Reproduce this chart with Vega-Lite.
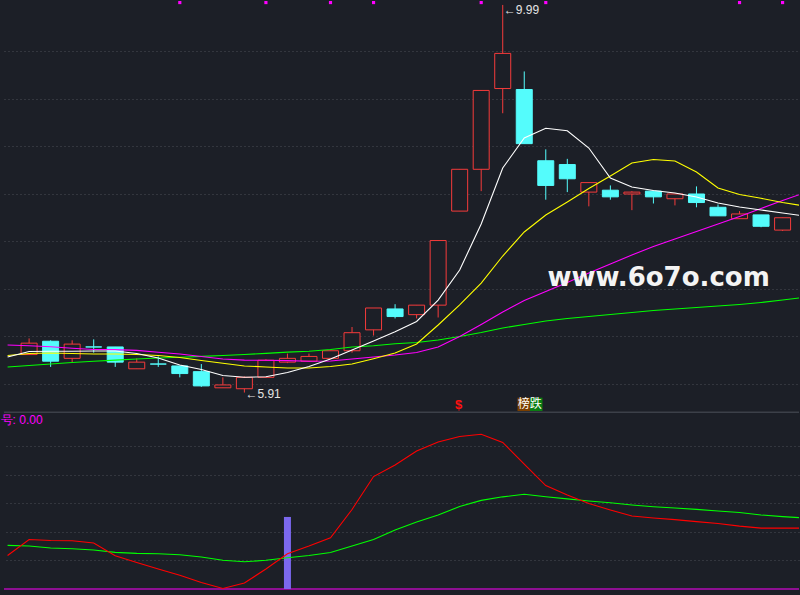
{
"$schema":"https://vega.github.io/schema/vega-lite/v6.json",
"width":800,"height":595,
"autosize":{"type":"fit","contains":"padding"},
"padding":0,
"background":"#1c1f27",
"config":{"view":{"stroke":null}},
"datasets":{
"candles":[
{"i":0,"o":6.31,"c":6.43,"h":6.48,"l":6.31,"d":"up"},
{"i":1,"o":6.45,"c":6.24,"h":6.46,"l":6.18,"d":"down"},
{"i":2,"o":6.27,"c":6.42,"h":6.46,"l":6.23,"d":"up"},
{"i":3,"o":6.39,"c":6.39,"h":6.47,"l":6.33,"d":"down"},
{"i":4,"o":6.39,"c":6.23,"h":6.39,"l":6.18,"d":"down"},
{"i":5,"o":6.16,"c":6.23,"h":6.27,"l":6.16,"d":"up"},
{"i":6,"o":6.21,"c":6.21,"h":6.29,"l":6.18,"d":"down"},
{"i":7,"o":6.19,"c":6.11,"h":6.19,"l":6.07,"d":"down"},
{"i":8,"o":6.13,"c":5.98,"h":6.21,"l":5.97,"d":"down"},
{"i":9,"o":5.96,"c":5.99,"h":6.07,"l":5.96,"d":"up"},
{"i":10,"o":5.95,"c":6.07,"h":6.08,"l":5.91,"d":"up"},
{"i":11,"o":6.07,"c":6.25,"h":6.26,"l":6.07,"d":"up"},
{"i":12,"o":6.23,"c":6.27,"h":6.32,"l":6.22,"d":"up"},
{"i":13,"o":6.24,"c":6.29,"h":6.32,"l":6.24,"d":"up"},
{"i":14,"o":6.27,"c":6.35,"h":6.35,"l":6.27,"d":"up"},
{"i":15,"o":6.35,"c":6.54,"h":6.60,"l":6.33,"d":"up"},
{"i":16,"o":6.57,"c":6.80,"h":6.80,"l":6.51,"d":"up"},
{"i":17,"o":6.79,"c":6.71,"h":6.84,"l":6.69,"d":"down"},
{"i":18,"o":6.73,"c":6.83,"h":6.83,"l":6.69,"d":"up"},
{"i":19,"o":6.83,"c":7.51,"h":7.51,"l":6.70,"d":"up"},
{"i":20,"o":7.82,"c":8.26,"h":8.26,"l":7.82,"d":"up"},
{"i":21,"o":8.26,"c":9.09,"h":9.09,"l":8.03,"d":"up"},
{"i":22,"o":9.11,"c":9.48,"h":9.99,"l":8.85,"d":"up"},
{"i":23,"o":9.10,"c":8.53,"h":9.29,"l":8.53,"d":"down"},
{"i":24,"o":8.35,"c":8.09,"h":8.47,"l":7.94,"d":"down"},
{"i":25,"o":8.31,"c":8.16,"h":8.37,"l":8.02,"d":"down"},
{"i":26,"o":8.02,"c":8.12,"h":8.12,"l":7.87,"d":"up"},
{"i":27,"o":8.04,"c":7.97,"h":8.09,"l":7.94,"d":"down"},
{"i":28,"o":8.00,"c":8.02,"h":8.03,"l":7.83,"d":"up"},
{"i":29,"o":8.03,"c":7.97,"h":8.03,"l":7.90,"d":"down"},
{"i":30,"o":7.95,"c":8.00,"h":8.00,"l":7.88,"d":"up"},
{"i":31,"o":8.00,"c":7.91,"h":8.08,"l":7.86,"d":"down"},
{"i":32,"o":7.86,"c":7.77,"h":7.89,"l":7.77,"d":"down"},
{"i":33,"o":7.74,"c":7.79,"h":7.82,"l":7.74,"d":"up"},
{"i":34,"o":7.78,"c":7.66,"h":7.78,"l":7.65,"d":"down"},
{"i":35,"o":7.62,"c":7.75,"h":7.75,"l":7.61,"d":"up"}
],
"ind":[
{"i":-1,"w":6.284,"yl":6.300,"m":6.411,"g":6.179,"k":23.5,"dv":30.6},
{"i":0,"w":6.342,"yl":6.321,"m":6.403,"g":6.195,"k":34.7,"dv":30.1},
{"i":1,"w":6.344,"yl":6.326,"m":6.392,"g":6.211,"k":34.0,"dv":28.7},
{"i":2,"w":6.344,"yl":6.321,"m":6.376,"g":6.226,"k":33.8,"dv":28.2},
{"i":3,"w":6.347,"yl":6.316,"m":6.363,"g":6.239,"k":32.2,"dv":27.3},
{"i":4,"w":6.347,"yl":6.316,"m":6.362,"g":6.251,"k":23.3,"dv":25.7},
{"i":5,"w":6.321,"yl":6.311,"m":6.354,"g":6.263,"k":18.6,"dv":25.0},
{"i":6,"w":6.274,"yl":6.300,"m":6.334,"g":6.274,"k":14.0,"dv":24.7},
{"i":7,"w":6.200,"yl":6.279,"m":6.316,"g":6.282,"k":9.6,"dv":24.0},
{"i":8,"w":6.153,"yl":6.247,"m":6.290,"g":6.291,"k":4.6,"dv":22.4},
{"i":9,"w":6.090,"yl":6.218,"m":6.263,"g":6.300,"k":0.4,"dv":20.1},
{"i":10,"w":6.071,"yl":6.190,"m":6.251,"g":6.311,"k":4.2,"dv":19.1},
{"i":11,"w":6.077,"yl":6.179,"m":6.250,"g":6.322,"k":14.0,"dv":20.1},
{"i":12,"w":6.121,"yl":6.168,"m":6.246,"g":6.335,"k":24.7,"dv":21.9},
{"i":13,"w":6.184,"yl":6.168,"m":6.240,"g":6.345,"k":30.1,"dv":23.5},
{"i":14,"w":6.263,"yl":6.184,"m":6.242,"g":6.363,"k":35.9,"dv":25.6},
{"i":15,"w":6.358,"yl":6.211,"m":6.263,"g":6.390,"k":55.7,"dv":30.1},
{"i":16,"w":6.453,"yl":6.266,"m":6.284,"g":6.402,"k":78.8,"dv":34.7},
{"i":17,"w":6.551,"yl":6.326,"m":6.305,"g":6.423,"k":86.9,"dv":41.3},
{"i":18,"w":6.658,"yl":6.421,"m":6.332,"g":6.437,"k":96.7,"dv":47.0},
{"i":19,"w":6.884,"yl":6.621,"m":6.390,"g":6.463,"k":103.0,"dv":51.9},
{"i":20,"w":7.200,"yl":6.832,"m":6.500,"g":6.500,"k":106.9,"dv":57.8},
{"i":21,"w":7.684,"yl":7.063,"m":6.626,"g":6.542,"k":108.5,"dv":62.1},
{"i":22,"w":8.274,"yl":7.347,"m":6.758,"g":6.590,"k":102.7,"dv":64.6},
{"i":23,"w":8.590,"yl":7.600,"m":6.879,"g":6.626,"k":87.6,"dv":66.4},
{"i":24,"w":8.692,"yl":7.779,"m":6.974,"g":6.663,"k":72.5,"dv":64.7},
{"i":25,"w":8.666,"yl":7.916,"m":7.068,"g":6.690,"k":65.9,"dv":63.2},
{"i":26,"w":8.484,"yl":8.058,"m":7.168,"g":6.711,"k":59.9,"dv":61.7},
{"i":27,"w":8.168,"yl":8.190,"m":7.263,"g":6.732,"k":55.4,"dv":60.4},
{"i":28,"w":8.074,"yl":8.326,"m":7.358,"g":6.753,"k":51.2,"dv":58.9},
{"i":29,"w":8.037,"yl":8.363,"m":7.447,"g":6.774,"k":49.8,"dv":57.7},
{"i":30,"w":8.011,"yl":8.347,"m":7.526,"g":6.790,"k":48.6,"dv":56.8},
{"i":31,"w":7.968,"yl":8.232,"m":7.605,"g":6.805,"k":47.2,"dv":55.8},
{"i":32,"w":7.905,"yl":8.063,"m":7.684,"g":6.821,"k":45.9,"dv":54.7},
{"i":33,"w":7.863,"yl":7.995,"m":7.763,"g":6.837,"k":44.1,"dv":53.6},
{"i":34,"w":7.832,"yl":7.955,"m":7.847,"g":6.858,"k":42.7,"dv":51.9},
{"i":35,"w":7.800,"yl":7.911,"m":7.932,"g":6.884,"k":42.7,"dv":50.7},
{"i":36,"w":7.768,"yl":7.874,"m":8.011,"g":6.911,"k":42.7,"dv":49.8}
],
"flags":[{"i":7},{"i":11},{"i":14},{"i":16},{"i":21},{"i":24},{"i":33},{"i":35}],
"sig":[{"i":12,"v":50.5}]
},
"layer":[
{"layer":[
{"data":{"name":"candles"},"mark":{"type":"rule","strokeWidth":1},
 "encoding":{
  "x":{"field":"i","type":"quantitative","scale":{"domain":[-0.934,35.53],"nice":false,"zero":false},"axis":null},
  "y":{"field":"l","type":"quantitative","scale":{"domain":[3.779,10.042],"nice":false,"zero":false},"axis":{"values":[6,6.5,7,7.5,8,8.5,9,9.5],"grid":true,"gridColor":"#4a4e57","gridDash":[1,3],"labels":false,"ticks":false,"domain":false,"title":null}},
  "y2":{"field":"h"},
  "stroke":{"field":"d","type":"nominal","scale":{"domain":["up","down"],"range":["#f53b3b","#54fcfc"]},"legend":null}}},
{"data":{"name":"candles"},"mark":{"type":"bar","size":16,"strokeWidth":1},
 "encoding":{
  "x":{"field":"i","type":"quantitative","scale":{"domain":[-0.934,35.53],"nice":false,"zero":false},"axis":null},
  "y":{"field":"o","type":"quantitative","scale":{"domain":[3.779,10.042],"nice":false,"zero":false},"axis":{"values":[6,6.5,7,7.5,8,8.5,9,9.5],"grid":true,"gridColor":"#4a4e57","gridDash":[1,3],"labels":false,"ticks":false,"domain":false,"title":null}},
  "y2":{"field":"c"},
  "fill":{"field":"d","type":"nominal","scale":{"domain":["up","down"],"range":["#1c1f27","#54fcfc"]},"legend":null},
  "stroke":{"field":"d","type":"nominal","scale":{"domain":["up","down"],"range":["#f53b3b","#54fcfc"]},"legend":null}}},
{"data":{"name":"ind"},"mark":{"type":"line","color":"#00ff00","strokeWidth":1.1,"clip":true},
 "encoding":{
  "x":{"field":"i","type":"quantitative","scale":{"domain":[-0.934,35.53],"nice":false,"zero":false},"axis":null},
  "y":{"field":"g","type":"quantitative","scale":{"domain":[3.779,10.042],"nice":false,"zero":false},"axis":{"values":[6,6.5,7,7.5,8,8.5,9,9.5],"grid":true,"gridColor":"#4a4e57","gridDash":[1,3],"labels":false,"ticks":false,"domain":false,"title":null}}}},
{"data":{"name":"ind"},"mark":{"type":"line","color":"#ff00ff","strokeWidth":1.1,"clip":true},
 "encoding":{
  "x":{"field":"i","type":"quantitative","scale":{"domain":[-0.934,35.53],"nice":false,"zero":false},"axis":null},
  "y":{"field":"m","type":"quantitative","scale":{"domain":[3.779,10.042],"nice":false,"zero":false},"axis":{"values":[6,6.5,7,7.5,8,8.5,9,9.5],"grid":true,"gridColor":"#4a4e57","gridDash":[1,3],"labels":false,"ticks":false,"domain":false,"title":null}}}},
{"data":{"name":"ind"},"mark":{"type":"line","color":"#ffff00","strokeWidth":1.1,"clip":true},
 "encoding":{
  "x":{"field":"i","type":"quantitative","scale":{"domain":[-0.934,35.53],"nice":false,"zero":false},"axis":null},
  "y":{"field":"yl","type":"quantitative","scale":{"domain":[3.779,10.042],"nice":false,"zero":false},"axis":{"values":[6,6.5,7,7.5,8,8.5,9,9.5],"grid":true,"gridColor":"#4a4e57","gridDash":[1,3],"labels":false,"ticks":false,"domain":false,"title":null}}}},
{"data":{"name":"ind"},"mark":{"type":"line","color":"#ffffff","strokeWidth":1.1,"clip":true},
 "encoding":{
  "x":{"field":"i","type":"quantitative","scale":{"domain":[-0.934,35.53],"nice":false,"zero":false},"axis":null},
  "y":{"field":"w","type":"quantitative","scale":{"domain":[3.779,10.042],"nice":false,"zero":false},"axis":{"values":[6,6.5,7,7.5,8,8.5,9,9.5],"grid":true,"gridColor":"#4a4e57","gridDash":[1,3],"labels":false,"ticks":false,"domain":false,"title":null}}}},
{"data":{"name":"flags"},"mark":{"type":"square","size":10,"color":"#ff00ff","opacity":1,"filled":true},
 "encoding":{
  "x":{"field":"i","type":"quantitative","scale":{"domain":[-0.934,35.53],"nice":false,"zero":false},"axis":null},
  "y":{"datum":10.015,"type":"quantitative","scale":{"domain":[3.779,10.042],"nice":false,"zero":false},"axis":{"values":[6,6.5,7,7.5,8,8.5,9,9.5],"grid":true,"gridColor":"#4a4e57","gridDash":[1,3],"labels":false,"ticks":false,"domain":false,"title":null}}}},
{"data":{"values":[{}]},"mark":{"type":"text","text":"←9.99","align":"left","baseline":"alphabetic","dx":1,"dy":9,"fontSize":12,"font":"Liberation Sans","color":"#e4e4e4"},
 "encoding":{
  "x":{"datum":22,"type":"quantitative","scale":{"domain":[-0.934,35.53],"nice":false,"zero":false},"axis":null},
  "y":{"datum":9.99,"type":"quantitative","scale":{"domain":[3.779,10.042],"nice":false,"zero":false},"axis":{"values":[6,6.5,7,7.5,8,8.5,9,9.5],"grid":true,"gridColor":"#4a4e57","gridDash":[1,3],"labels":false,"ticks":false,"domain":false,"title":null}}}},
{"data":{"values":[{}]},"mark":{"type":"text","text":"←5.91","align":"left","baseline":"alphabetic","dx":1,"dy":5,"fontSize":12,"font":"Liberation Sans","color":"#e4e4e4"},
 "encoding":{
  "x":{"datum":10,"type":"quantitative","scale":{"domain":[-0.934,35.53],"nice":false,"zero":false},"axis":null},
  "y":{"datum":5.91,"type":"quantitative","scale":{"domain":[3.779,10.042],"nice":false,"zero":false},"axis":{"values":[6,6.5,7,7.5,8,8.5,9,9.5],"grid":true,"gridColor":"#4a4e57","gridDash":[1,3],"labels":false,"ticks":false,"domain":false,"title":null}}}},
{"data":{"values":[{}]},"mark":{"type":"text","text":"$","align":"center","baseline":"alphabetic","dx":-1,"fontSize":13,"fontWeight":"bold","font":"Liberation Sans","color":"#ff1010"},
 "encoding":{
  "x":{"datum":20,"type":"quantitative","scale":{"domain":[-0.934,35.53],"nice":false,"zero":false},"axis":null},
  "y":{"datum":5.732,"type":"quantitative","scale":{"domain":[3.779,10.042],"nice":false,"zero":false},"axis":{"values":[6,6.5,7,7.5,8,8.5,9,9.5],"grid":true,"gridColor":"#4a4e57","gridDash":[1,3],"labels":false,"ticks":false,"domain":false,"title":null}}}},
{"data":{"values":[{}]},"mark":{"type":"bar","size":12.5,"color":"#7a3f00","xOffset":-0.5},
 "encoding":{
  "x":{"datum":23,"type":"quantitative","scale":{"domain":[-0.934,35.53],"nice":false,"zero":false},"axis":null},
  "y":{"datum":5.856,"type":"quantitative","scale":{"domain":[3.779,10.042],"nice":false,"zero":false},"axis":{"values":[6,6.5,7,7.5,8,8.5,9,9.5],"grid":true,"gridColor":"#4a4e57","gridDash":[1,3],"labels":false,"ticks":false,"domain":false,"title":null}},
  "y2":{"datum":5.716}}},
{"data":{"values":[{}]},"mark":{"type":"bar","size":12.5,"color":"#0a7d12","xOffset":12},
 "encoding":{
  "x":{"datum":23,"type":"quantitative","scale":{"domain":[-0.934,35.53],"nice":false,"zero":false},"axis":null},
  "y":{"datum":5.856,"type":"quantitative","scale":{"domain":[3.779,10.042],"nice":false,"zero":false},"axis":{"values":[6,6.5,7,7.5,8,8.5,9,9.5],"grid":true,"gridColor":"#4a4e57","gridDash":[1,3],"labels":false,"ticks":false,"domain":false,"title":null}},
  "y2":{"datum":5.716}}},
{"data":{"values":[{}]},"mark":{"type":"text","text":"榜跌","align":"left","baseline":"middle","dx":-6.5,"fontSize":12,"font":"Noto Sans CJK SC","color":"#ffffff"},
 "encoding":{
  "x":{"datum":23,"type":"quantitative","scale":{"domain":[-0.934,35.53],"nice":false,"zero":false},"axis":null},
  "y":{"datum":5.786,"type":"quantitative","scale":{"domain":[3.779,10.042],"nice":false,"zero":false},"axis":{"values":[6,6.5,7,7.5,8,8.5,9,9.5],"grid":true,"gridColor":"#4a4e57","gridDash":[1,3],"labels":false,"ticks":false,"domain":false,"title":null}}}},
{"data":{"values":[{}]},"mark":{"type":"text","text":"www.6o7o.com","align":"center","baseline":"alphabetic","fontSize":26,"letterSpacing":3.3,"fontWeight":"bold","font":"DejaVu Sans","color":"#f4f4f4"},
 "encoding":{
  "x":{"datum":29.24,"type":"quantitative","scale":{"domain":[-0.934,35.53],"nice":false,"zero":false},"axis":null},
  "y":{"datum":7.032,"type":"quantitative","scale":{"domain":[3.779,10.042],"nice":false,"zero":false},"axis":{"values":[6,6.5,7,7.5,8,8.5,9,9.5],"grid":true,"gridColor":"#4a4e57","gridDash":[1,3],"labels":false,"ticks":false,"domain":false,"title":null}}}}
]},
{"layer":[
{"data":{"values":[{}]},"mark":{"type":"rule","color":"#3c4049","strokeWidth":1.5},
 "encoding":{
  "y":{"datum":123.8,"type":"quantitative","scale":{"domain":[-4.2,412.8],"nice":false,"zero":false},"axis":{"values":[20,40,60,80,100],"grid":true,"gridColor":"#4a4e57","gridDash":[1,3],"labels":false,"ticks":false,"domain":false,"title":null}}}},
{"data":{"values":[{}]},"mark":{"type":"rule","color":"#ff00ff","strokeWidth":1},
 "encoding":{
  "y":{"datum":0,"type":"quantitative","scale":{"domain":[-4.2,412.8],"nice":false,"zero":false},"axis":{"values":[20,40,60,80,100],"grid":true,"gridColor":"#4a4e57","gridDash":[1,3],"labels":false,"ticks":false,"domain":false,"title":null}}}},
{"data":{"name":"sig"},"mark":{"type":"bar","size":7,"color":"#7b68ee"},
 "encoding":{
  "x":{"field":"i","type":"quantitative","scale":{"domain":[-0.934,35.53],"nice":false,"zero":false},"axis":null},
  "y":{"field":"v","type":"quantitative","scale":{"domain":[-4.2,412.8],"nice":false,"zero":false},"axis":{"values":[20,40,60,80,100],"grid":true,"gridColor":"#4a4e57","gridDash":[1,3],"labels":false,"ticks":false,"domain":false,"title":null}},
  "y2":{"datum":0}}},
{"data":{"name":"ind"},"mark":{"type":"line","color":"#00ff00","strokeWidth":1.1,"clip":true},
 "encoding":{
  "x":{"field":"i","type":"quantitative","scale":{"domain":[-0.934,35.53],"nice":false,"zero":false},"axis":null},
  "y":{"field":"dv","type":"quantitative","scale":{"domain":[-4.2,412.8],"nice":false,"zero":false},"axis":{"values":[20,40,60,80,100],"grid":true,"gridColor":"#4a4e57","gridDash":[1,3],"labels":false,"ticks":false,"domain":false,"title":null}}}},
{"data":{"name":"ind"},"mark":{"type":"line","color":"#ff0000","strokeWidth":1.1,"clip":true},
 "encoding":{
  "x":{"field":"i","type":"quantitative","scale":{"domain":[-0.934,35.53],"nice":false,"zero":false},"axis":null},
  "y":{"field":"k","type":"quantitative","scale":{"domain":[-4.2,412.8],"nice":false,"zero":false},"axis":{"values":[20,40,60,80,100],"grid":true,"gridColor":"#4a4e57","gridDash":[1,3],"labels":false,"ticks":false,"domain":false,"title":null}}}},
{"data":{"values":[{}]},"mark":{"type":"text","text":"号: 0.00","align":"right","baseline":"alphabetic","dx":13.5,"fontSize":12,"font":"Liberation Sans","color":"#ff00ff"},
 "encoding":{
  "x":{"datum":0,"type":"quantitative","scale":{"domain":[-0.934,35.53],"nice":false,"zero":false},"axis":null},
  "y":{"datum":115.6,"type":"quantitative","scale":{"domain":[-4.2,412.8],"nice":false,"zero":false},"axis":{"values":[20,40,60,80,100],"grid":true,"gridColor":"#4a4e57","gridDash":[1,3],"labels":false,"ticks":false,"domain":false,"title":null}}}}
]}
],
"resolve":{"scale":{"y":"independent"}}
}
